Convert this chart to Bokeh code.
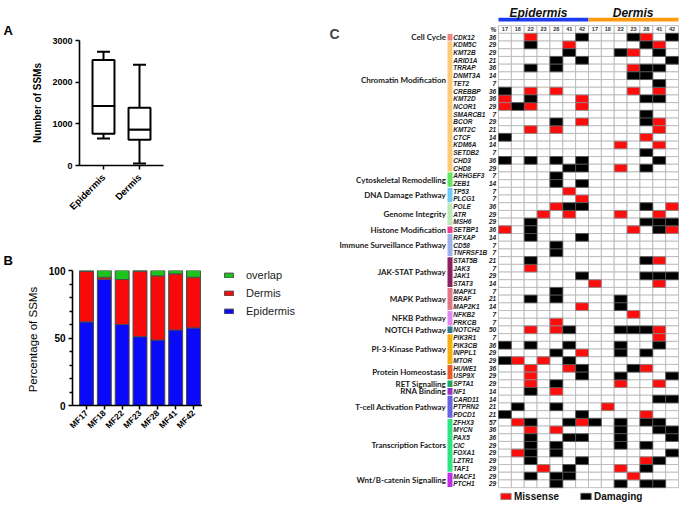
from math import pi
from bokeh.plotting import figure
from bokeh.models import (ColumnDataSource, FactorRange, Range1d, FixedTicker, Whisker,
                          TeeHead, Legend, LegendItem, Label, Title)
from bokeh.layouts import row, column
from bokeh.core.properties import value
from bokeh.embed import file_html
from bokeh.resources import INLINE

# ---------------- Panel A data: number of SSMs (box plot summary) ----------------
box_groups = ["Epidermis", "Dermis"]
box_min = [650, 50]
box_q1 = [765, 620]
box_median = [1430, 860]
box_q3 = [2530, 1385]
box_max = [2730, 2420]

# ---------------- Panel B data: percentage of SSMs ----------------
samples = ["MF17", "MF18", "MF22", "MF23", "MF28", "MF41", "MF42"]
pct_epidermis = [62, 93.5, 60, 51, 48.5, 56, 57.5]
pct_dermis = [37.3, 1.5, 33.3, 48.5, 47.5, 41.5, 37.5]
pct_overlap = [0.7, 5, 6.7, 0.5, 4, 2.5, 5]
stack_names = ["Epidermis", "Dermis", "overlap"]

# ---------------- Panel C data: mutated genes ----------------
tissues = ["Epidermis", "Dermis"]
sample_ids = ["17", "18", "22", "23", "28", "41", "42"]
pathways = ["Cell Cycle", "Chromatin Modification", "Cytoskeletal Remodelling",
            "DNA Damage Pathway", "Genome Integrity", "Histone Modification",
            "Immune Surveillance Pathway", "JAK-STAT Pathway", "MAPK Pathway",
            "NFKB Pathway", "NOTCH Pathway", "PI-3-Kinase Pathway",
            "Protein Homeostasis", "RET Signalling", "RNA Binding",
            "T-cell Activation Pathway", "Transcription Factors",
            "Wnt/B-catenin Signalling"]
pathway_sizes = [1, 17, 2, 2, 3, 1, 3, 4, 3, 2, 1, 4, 2, 1, 1, 3, 7, 2]
genes = ["CDK12", "KDM5C", "KMT2B", "ARID1A", "TRRAP", "DNMT3A", "TET2", "CREBBP",
         "KMT2D", "NCOR1", "SMARCB1", "BCOR", "KMT2C", "CTCF", "KDM6A", "SETDB2",
         "CHD3", "CHD8", "ARHGEF3", "ZEB1", "TP53", "PLCG1", "POLE", "ATR", "MSH6",
         "SETBP1", "RFXAP", "CD58", "TNFRSF1B", "STAT5B", "JAK3", "JAK1", "STAT3",
         "MAPK1", "BRAF", "MAP2K1", "NFKB2", "PRKCB", "NOTCH2", "PIK3R1", "PIK3CB",
         "INPPL1", "MTOR", "HUWE1", "USP9X", "SPTA1", "NF1", "CARD11", "PTPRN2",
         "PDCD1", "ZFHX3", "MYCN", "PAX5", "CIC", "FOXA1", "LZTR1", "TAF1",
         "MACF1", "PTCH1"]
gene_pct = [36, 29, 29, 21, 36, 14, 7, 36, 36, 29, 7, 29, 21, 14, 14, 7, 36, 29,
            7, 14, 7, 7, 36, 29, 29, 36, 14, 7, 7, 21, 7, 29, 14, 7, 21, 14, 7, 7,
            50, 7, 36, 29, 29, 36, 29, 29, 14, 14, 21, 21, 57, 36, 36, 29, 29, 29,
            29, 29, 29]
# 14 columns: Epidermis 17..42 then Dermis 17..42 ; M = missense, D = damaging
calls = [
    "..M...D...DM.D", "..D..M.....DM.", ".....D...DM.D.", "....D.D......D",
    "..D.D.....MDD.", "..........DD..", "............D.", "D.M.M.....M.M.",
    "M.D...M....DD.", "MDM...M.......", "...........D..", "....D.M....DM.",
    "..M.M.......M.", "D..........M..", ".........M..M.", "...........D..",
    "D.D.D.D.....D.", ".....DD..M.D..", "....D.........", "....D.D.......",
    ".....M........", "......M.......", "....MDD....D.M", "...M.M...M..M.",
    "..D........DDD", "M.D.......M.DM", "..D...D.......", "....D.........",
    "....D.........", "..D........DM.", "..M...........", "......D....DDD",
    ".......M....M.", "....D.........", "..D.D....D....", "......M..D....",
    "..........M...", "....M.........", "..M.MD...DDDM.", "............M.",
    "D.D..D...D..D.", "....D.M..D.D..", "DM.M.D........", "..M..MD...DM..",
    "..M...D..D...D", "..M.D....M..M.", "..D.M.........", "............DD",
    ".D..D...M.....", "D.....D....M..", ".MD..DMD.D.DD.", "..M.M....D..DD",
    "..D..DD..D...D", "..D.D....D.D..", ".MD.D........D", "..D...D....MD.",
    "...M.D...M.D..", "..D.DD....M...", "....D....D.DD.",
]

# ---------------- styles ----------------
stack_colors = ["#0A0AF8", "#F80A0A", "#1CC41C"]
pathway_colors = ["#F28482", "#FBCB7A", "#63E463", "#6FCBF7", "#BCE8B8", "#F03C8C",
                  "#9CB2EA", "#8A1F62", "#E0788A", "#E28AF4", "#2F7A90", "#F6AE10",
                  "#EA5A2A", "#1EA864", "#9A2FC8", "#6464E2", "#2EE485", "#C02EEC"]
label_row_override = {"Chromatin Modification": 5.5}
ARIAL = value("Liberation Sans")


def style_axes(p, label_bold=True):
    for ax in p.axis:
        ax.axis_line_width = 1.6
        ax.axis_line_color = "black"
        ax.major_tick_line_width = 1.5
        ax.major_tick_out = 4
        ax.major_tick_in = 0
        ax.minor_tick_line_color = None
        ax.major_label_text_font = "Liberation Sans"
        ax.major_label_text_font_style = "bold"
        ax.major_label_text_color = "black"
        ax.major_label_standoff = 3
        ax.axis_label_text_font = "Liberation Sans"
        ax.axis_label_text_font_style = "bold" if label_bold else "normal"
        ax.axis_label_text_color = "black"
    p.grid.visible = False


def panel_letter(p, letter, offset, standoff):
    p.add_layout(Title(text=letter, align="left", offset=offset, standoff=standoff,
                       text_font="Liberation Sans", text_font_style="bold",
                       text_font_size="13px", text_color="black"), "above")


# ================= Panel A =================
pa = figure(width=300, height=230, title=None, output_backend="svg", toolbar_location=None,
            x_range=FactorRange(factors=box_groups, range_padding=1 / 6),
            y_range=Range1d(0, 3000), frame_align=False,
            min_border_left=79, min_border_right=137, min_border_top=40, min_border_bottom=65,
            outline_line_color=None)
src_a = ColumnDataSource(dict(x=box_groups, lo=box_min, q1=box_q1, med=box_median,
                              q3=box_q3, hi=box_max))
pa.vbar(x="x", top="q3", bottom="med", width=0.61, source=src_a, fill_color="white",
        line_color="black", line_width=2)
pa.vbar(x="x", top="med", bottom="q1", width=0.61, source=src_a, fill_color="white",
        line_color="black", line_width=2)
pa.add_layout(Whisker(source=src_a, base="x", lower="q3", upper="hi", dimension="height",
                      line_width=2, line_color="black",
                      upper_head=TeeHead(size=13, line_width=2, line_color="black"),
                      lower_head=None))
pa.add_layout(Whisker(source=src_a, base="x", lower="lo", upper="q1", dimension="height",
                      line_width=2, line_color="black",
                      lower_head=TeeHead(size=13, line_width=2, line_color="black"),
                      upper_head=None))
style_axes(pa)
pa.yaxis.ticker = FixedTicker(ticks=[0, 1000, 2000, 3000])
pa.yaxis.major_label_text_font_size = "9px"
pa.yaxis.axis_label = "Number of SSMs"
pa.yaxis.axis_label_text_font_size = "10px"
pa.yaxis.axis_label_standoff = 6
pa.xaxis.major_label_orientation = pi / 4
pa.xaxis.major_label_text_font_size = "9.5px"
pa.xaxis.major_label_standoff = 6
panel_letter(pa, "A", -76, 5)

# ================= Panel B =================
xb = [i + 0.5 for i in range(len(samples))]
pb = figure(width=202, height=278, title=None, output_backend="svg", toolbar_location=None,
            x_range=Range1d(-0.285, 7.005), y_range=Range1d(0, 100), frame_align=False,
            min_border_left=72, min_border_right=0, min_border_top=40, min_border_bottom=103,
            outline_line_color=None)
src_b = ColumnDataSource(dict(x=xb, Epidermis=pct_epidermis, Dermis=pct_dermis,
                              overlap=pct_overlap))
rb = pb.vbar_stack(stack_names, x="x", width=0.78, source=src_b,
                   fill_color=stack_colors, line_color="#4a4a4a", line_width=1)
style_axes(pb, label_bold=False)
pb.yaxis.ticker = FixedTicker(ticks=[0, 50, 100], minor_ticks=[10, 20, 30, 40, 60, 70, 80, 90])
pb.yaxis.minor_tick_line_color = "black"
pb.yaxis.minor_tick_line_width = 1.3
pb.yaxis.minor_tick_out = 3
pb.yaxis.minor_tick_in = 0
pb.yaxis.major_label_text_font_size = "10px"
pb.yaxis.axis_label = "Percentage  of SSMs"
pb.yaxis.axis_label_text_font_size = "11.5px"
pb.yaxis.axis_label_standoff = 7
pb.xaxis.ticker = FixedTicker(ticks=xb)
pb.xaxis.major_label_overrides = {x: s for x, s in zip(xb, samples)}
pb.xaxis.major_label_orientation = pi / 4
pb.xaxis.major_label_text_font_size = "8.5px"
pb.xaxis.major_label_standoff = 2
panel_letter(pb, "B", -69, 5)

# legend of panel B, drawn in a small blank panel to the right of the bars
# (its swatch renderers sit outside the visible range, only their legend glyphs show)
pleg = figure(width=98, height=278, title=None, output_backend="svg", toolbar_location=None,
              x_range=Range1d(0, 1), y_range=Range1d(0, 1), x_axis_type=None,
              y_axis_type=None, min_border=0, outline_line_color=None, frame_align=False)
leg_r = {name: pleg.vbar(x=[-10], top=[-10], bottom=[-11], width=0.5, fill_color=col,
                         line_color="#4a4a4a", line_width=1)
         for name, col in zip(stack_names, stack_colors)}
leg_b = Legend(items=[LegendItem(label=name, renderers=[leg_r[name]])
                      for name in reversed(stack_names)],
               location=(21, 190), padding=0, margin=0, glyph_width=11, glyph_height=6,
               label_standoff=12, spacing=4, label_height=14,
               label_text_font="Liberation Sans", label_text_font_size="11px",
               label_text_color="#222222", background_fill_alpha=0, border_line_alpha=0)
pleg.add_layout(leg_b)

# ================= Panel C =================
ncol = 2 * len(sample_ids)
pc = figure(width=385, height=508, title=None, output_backend="svg", toolbar_location=None,
            x_range=Range1d(-15.4, 14.544), y_range=Range1d(61.208, -4.766),
            x_axis_type=None, y_axis_type=None, min_border=0, outline_line_color=None,
            frame_align=False)

# base grid (header row + gene rows)
gx, gy = [], []
for r in range(-1, len(genes)):
    for c in range(ncol):
        gx.append(c + 0.5)
        gy.append(r)
pc.rect(x=gx, y=gy, width=1, height=1, fill_color="white", line_color="#B4B4B4",
        line_width=0.8)

mx, my, dx, dy = [], [], [], []
for r, s in enumerate(calls):
    for c, ch in enumerate(s):
        if ch == "M":
            mx.append(c + 0.5); my.append(r)
        elif ch == "D":
            dx.append(c + 0.5); dy.append(r)
r_mis = pc.rect(x=mx, y=my, width=1, height=1, fill_color="#FF0D0D", line_color="#8a8a8a",
                line_width=0.8)
r_dam = pc.rect(x=dx, y=dy, width=1, height=1, fill_color="black", line_color="#555555",
                line_width=0.8)

# header numbers
pc.text(x=[c + 0.5 for c in range(ncol)], y=[-1] * ncol, text=sample_ids * 2,
        text_align="center", text_baseline="middle", text_font=ARIAL,
        text_font_style="bold", text_font_size="5.5px", text_color="#333333")
pc.text(x=[-0.18], y=[-1], text=["%"], text_align="right", text_baseline="middle",
        text_font=ARIAL, text_font_style="bold italic", text_font_size="6.5px",
        text_color="#222222")

# gene names and percentages
rows = list(range(len(genes)))
pc.text(x=[-3.52] * len(genes), y=rows, text=genes, text_align="left",
        text_baseline="middle", text_font=ARIAL, text_font_style="bold italic",
        text_font_size="6.5px", text_color="#222222")
pc.text(x=[-0.18] * len(genes), y=rows, text=[str(v) for v in gene_pct], text_align="right",
        text_baseline="middle", text_font=ARIAL, text_font_style="bold italic",
        text_font_size="6.5px", text_color="#222222")

# pathway colour bars and labels
starts, label_y = [], []
s0 = 0
for name, n in zip(pathways, pathway_sizes):
    starts.append(s0)
    label_y.append(label_row_override.get(name, s0 + (n - 1) / 2))
    s0 += n
tops = [s - 0.5 + 0.07 for s in starts]
bots = [s + n - 0.5 - 0.07 for s, n in zip(starts, pathway_sizes)]
pc.quad(left=[-3.967] * len(pathways), right=[-3.578] * len(pathways), top=tops, bottom=bots,
        fill_color=pathway_colors, line_color=None)
pc.text(x=[-4.083] * len(pathways), y=label_y, text=pathways, text_align="right",
        text_baseline="middle", text_font=value("Lato"), text_font_style="bold",
        text_font_size="8px", text_color="#1a1a1a")

# tissue titles and bars
pc.quad(left=[0, 7], right=[7, 14], top=[-2.52, -2.52], bottom=[-2.04, -2.04],
        fill_color=["#1B3BF2", "#FF9A0E"], line_color=None)
pc.text(x=[3.11, 10.47], y=[-3.117, -3.117], text=tissues, text_align="center",
        text_baseline="alphabetic", text_font=ARIAL, text_font_style="bold italic",
        text_font_size="12px", text_color="#111111")

leg_c = Legend(items=[LegendItem(label="Missense", renderers=[r_mis]),
                      LegendItem(label="Damaging", renderers=[r_dam])],
               orientation="horizontal", location=(199, 6), padding=0, margin=0,
               glyph_width=13, glyph_height=8, label_standoff=2, spacing=20, label_height=12,
               label_text_font="Liberation Sans", label_text_font_style="bold",
               label_text_font_size="10px", label_text_color="#111111",
               background_fill_alpha=0, border_line_alpha=0)
pc.add_layout(leg_c)
pc.add_layout(Label(x=29, y=475, x_units="screen", y_units="screen", text="C",
                    text_font="Liberation Sans", text_font_style="bold", text_font_size="14px",
                    text_baseline="alphabetic"))

layout = row(column(pa, row(pb, pleg)), pc)
open("out.html", "w").write(file_html(layout, INLINE))
